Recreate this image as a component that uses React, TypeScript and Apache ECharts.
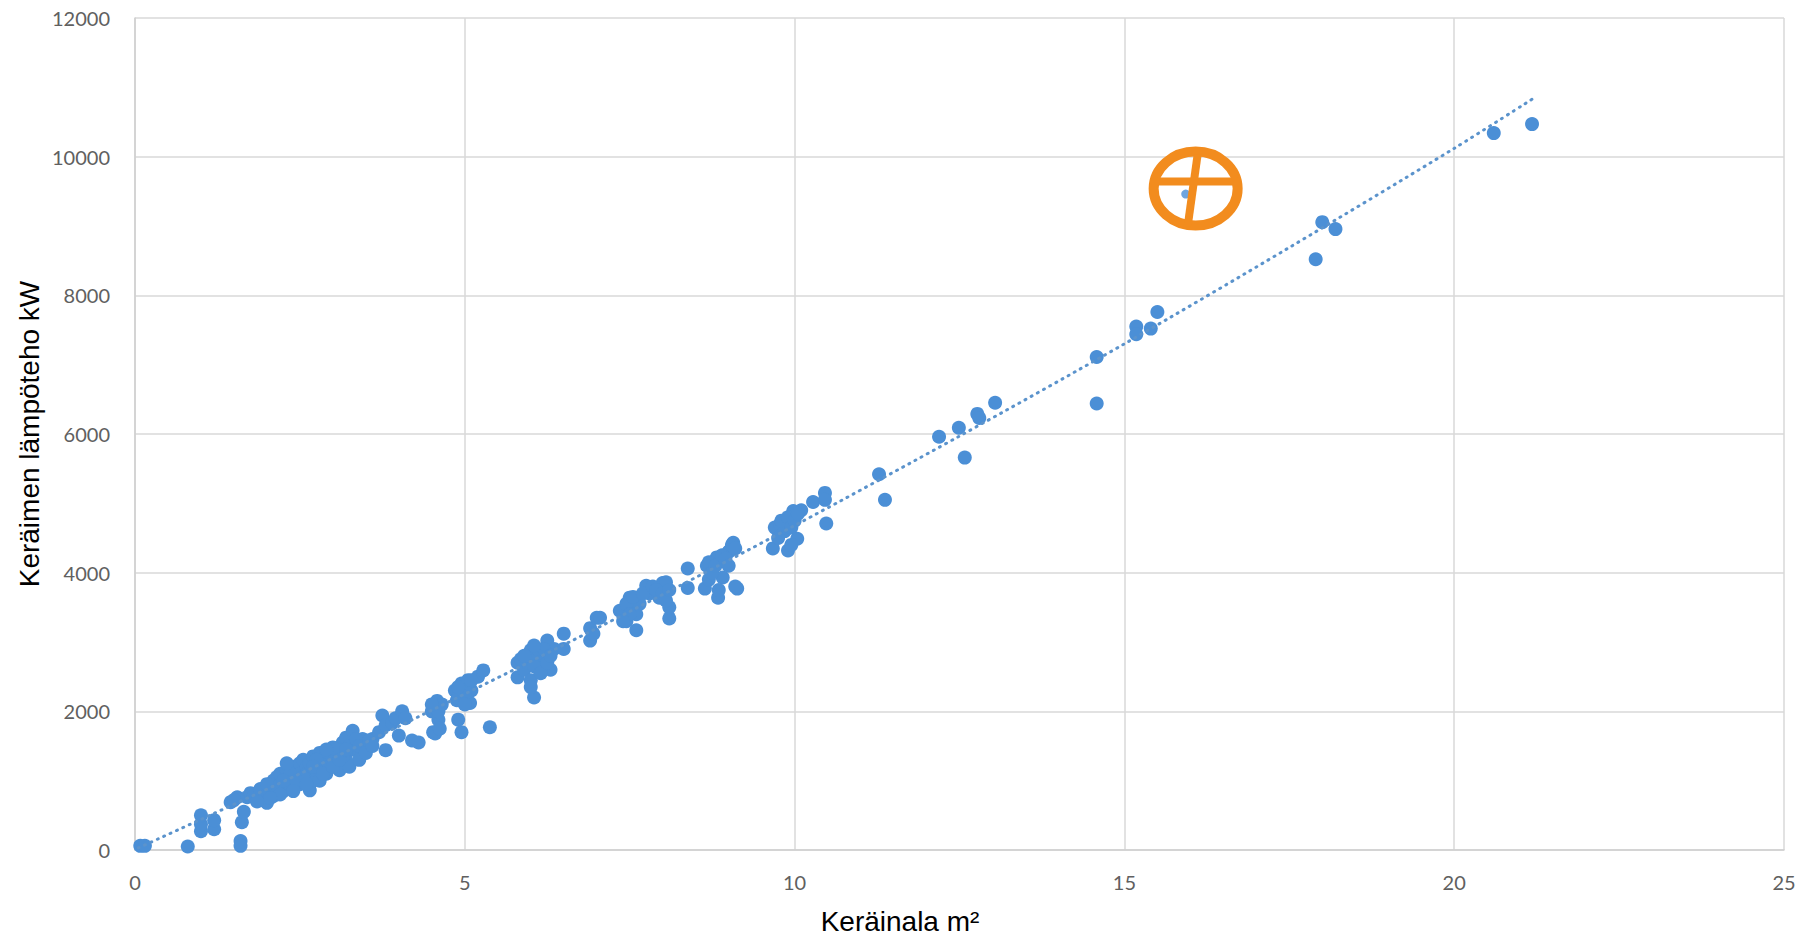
import React, { useEffect, useRef } from "react";
import * as echarts from "echarts";

// Keräinala m² (x) vs keräimen lämpöteho kW (y)
const xMin = 0;
const xMax = 25;
const xStep = 5;
const yMin = 0;
const yMax = 12000;
const yStep = 2000;

const pointsLow: [number, number][] = [
  [0.08, 60], [0.15, 60], [0.8, 50], [1.0, 270], [1.0, 370], [1.0, 500], [1.2, 300], [1.2, 430],
  [1.45, 690], [1.55, 760], [1.6, 130], [1.6, 60], [1.62, 400], [1.65, 550], [1.7, 760], [1.75, 820],
  [1.8, 780], [1.9, 800], [1.95, 720], [2.0, 680], [2.0, 860], [2.05, 900], [2.1, 1000], [2.15, 1050],
  [2.2, 950], [2.2, 1100], [2.25, 850], [2.3, 1150], [2.3, 1000], [2.35, 900], [2.4, 1200], [2.4, 1050],
  [2.45, 1150], [2.5, 1250], [2.5, 1100], [2.5, 950], [2.55, 1300], [2.6, 1200], [2.6, 1100], [2.65, 860],
  [2.65, 1250], [2.7, 1350], [2.7, 1000], [2.75, 1150], [2.8, 1400], [2.8, 1000], [2.85, 1250], [2.9, 1300],
  [2.9, 1100], [2.95, 1200], [3.0, 1480], [3.0, 1350], [3.05, 1250], [3.1, 1150], [3.1, 1400], [3.15, 1550],
  [3.2, 1620], [3.2, 1300], [3.25, 1200], [3.3, 1720], [3.3, 1450], [3.35, 1440], [3.4, 1300], [3.45, 1600],
  [3.5, 1580], [2.1, 780], [2.35, 1100], [2.55, 1050], [2.75, 1300], [2.95, 1400], [3.15, 1350],
  [2.15, 900], [2.25, 1000], [2.45, 1000], [2.6, 950], [2.7, 1200], [2.85, 1100], [3.0, 1200], [3.05, 1450],
  [3.25, 1500], [3.35, 1600], [2.4, 850], [2.2, 800], [2.05, 750], [1.85, 700], [2.3, 1250], [2.9, 1450],
  [3.1, 1300], [3.4, 1500], [3.2, 1450], [3.5, 1400], [3.6, 1600], [1.5, 720], [1.9, 880], [2.0, 950],
];

const pointsMid: [number, number][] = [
  [3.55, 1580], [3.6, 1500], [3.7, 1700], [3.75, 1940], [3.8, 1440], [3.8, 1800], [3.9, 1830], [3.95, 1900],
  [4.0, 1650], [4.05, 2000], [4.1, 1900], [4.2, 1580], [4.3, 1550], [4.5, 2000], [4.52, 1700], [4.55, 1680],
  [4.58, 2150], [4.6, 1880], [4.65, 2100], [4.85, 2300], [4.88, 2160], [4.9, 1880], [4.95, 1700], [4.97, 2300],
  [5.0, 2400], [5.05, 2450], [5.08, 2120], [5.1, 2300], [5.2, 2500], [5.28, 2590], [5.38, 1770],
  [4.55, 2050], [4.6, 2000], [4.62, 1750], [4.9, 2200], [5.0, 2250], [5.0, 2100], [5.05, 2350], [4.95, 2400],
  [5.1, 2450], [4.5, 2100], [4.9, 2350],
  [5.8, 2700], [5.8, 2490], [5.9, 2600], [6.0, 2880], [6.0, 2450], [6.05, 2200], [6.1, 2630], [6.1, 2800],
  [6.15, 2750], [6.2, 2780], [6.25, 3020], [6.3, 2600], [6.35, 2900], [6.5, 3120], [6.5, 2900], [6.9, 3200],
  [5.85, 2750], [5.95, 2700], [6.0, 2800], [6.05, 2650], [6.1, 2900], [6.15, 2550], [6.2, 2900], [6.25, 2700],
  [6.05, 2950], [5.9, 2800], [6.0, 2350], [6.3, 2800],
  [6.9, 3020], [6.95, 3120], [7.0, 3350], [7.05, 3350], [7.35, 3450], [7.4, 3450], [7.45, 3300], [7.5, 3640],
  [7.55, 3500], [7.6, 3170], [7.65, 3550], [7.75, 3810], [7.8, 3700], [7.95, 3640], [8.0, 3850], [8.05, 3860],
  [8.1, 3340], [8.1, 3500],
  [7.45, 3550], [7.55, 3650], [7.6, 3400], [7.7, 3700], [7.85, 3800], [7.9, 3750], [8.0, 3700], [8.05, 3600],
  [8.1, 3750], [7.5, 3400], [7.4, 3300],
];

const pointsHigh: [number, number][] = [
  [8.38, 4060], [8.38, 3780], [8.64, 3770], [8.67, 4100], [8.7, 3900], [8.82, 4220], [8.84, 3640], [8.91, 3930],
  [9.0, 4300], [9.02, 4320], [9.07, 4430], [9.13, 3770], [9.67, 4350], [9.7, 4650], [9.73, 4650], [9.78, 4700],
  [8.7, 4150], [8.75, 4000], [8.8, 4100], [8.9, 4250], [8.95, 4200], [9.05, 4400], [9.1, 4350], [8.85, 3750],
  [9.1, 3800], [9.0, 4100],
  [9.85, 4600], [9.9, 4320], [9.98, 4850], [9.98, 4890], [10.04, 4490], [10.1, 4900], [10.28, 5020], [10.46, 5150],
  [9.8, 4750], [9.9, 4800], [9.95, 4650], [10.0, 4750], [10.05, 4850], [9.75, 4500], [9.95, 4400],
  [10.46, 5050], [10.48, 4710], [11.28, 5420], [11.37, 5050], [12.19, 5960], [12.49, 6090], [12.58, 5660],
  [12.77, 6290], [12.8, 6230], [13.04, 6450], [14.58, 7110], [14.58, 6440], [15.18, 7550], [15.18, 7440],
  [15.4, 7520], [15.5, 7760], [17.9, 8520], [18.0, 9055], [18.2, 8955], [20.6, 10340], [21.18, 10470],
];

const markedPoint: [number, number][] = [[15.93, 9460]];

// dotted trend curve
const trendX: number[] = [0.05, 2.5, 5, 7.5, 10, 12.5, 15, 17.5, 20, 21.2];
const trendY: number[] = [30, 1100, 2250, 3440, 4680, 5970, 7300, 8690, 10120, 10840];

const annotationCenter: [number, number] = [16.08, 9540];

const DOT = "#4B8FD6";
const TREND = "#5B93CC";
const ORANGE = "#F28C1E";
const GRID = "#D9D9D9";
const LABEL = "#606060";

export default function App() {
  const ref = useRef<HTMLDivElement>(null);

  useEffect(() => {
    const chart = echarts.init(ref.current!, null, { renderer: "svg" });
    chart.setOption({
      animation: false,
      backgroundColor: "#ffffff",
      grid: { left: 135, right: 20, top: 18, bottom: 91, containLabel: false },
      xAxis: {
        type: "value",
        min: xMin,
        max: xMax,
        interval: xStep,
        axisLine: { show: true, lineStyle: { color: "#CFCFCF", width: 1.5 } },
        axisTick: { show: false },
        splitLine: { show: true, lineStyle: { color: GRID, width: 1.5 } },
        axisLabel: { color: LABEL, fontSize: 20, fontFamily: "Lato", margin: 22 },
      },
      yAxis: {
        type: "value",
        min: yMin,
        max: yMax,
        interval: yStep,
        axisLine: { show: true, lineStyle: { color: "#CFCFCF", width: 1.5 } },
        axisTick: { show: false },
        splitLine: { show: true, lineStyle: { color: GRID, width: 1.5 } },
        axisLabel: {
          color: LABEL,
          fontSize: 20,
          fontFamily: "Lato",
          margin: 25,
          formatter: (v: number) => String(v),
        },
      },
      series: [
        {
          type: "scatter",
          data: [...pointsLow, ...pointsMid, ...pointsHigh],
          symbolSize: 14,
          itemStyle: { color: DOT, opacity: 1 },
          z: 2,
        },
        {
          type: "scatter",
          data: markedPoint,
          symbolSize: 9,
          itemStyle: { color: DOT },
          z: 2,
        },
        {
          type: "line",
          data: trendX.map((x, i) => [x, trendY[i]]),
          showSymbol: false,
          symbol: "none",
          smooth: 0.3,
          lineStyle: { color: TREND, width: 3, type: [1, 6], cap: "round" },
          z: 3,
        },
      ],
    });

    const [cx, cy] = chart.convertToPixel({ gridIndex: 0 }, annotationCenter) as number[];
    chart.setOption({
      graphic: [
        {
          type: "ellipse",
          shape: { cx, cy, rx: 42, ry: 37 },
          style: { fill: "none", stroke: ORANGE, lineWidth: 10 },
          z: 10,
        },
        {
          type: "line",
          shape: { x1: cx - 38, y1: cy - 7, x2: cx + 42, y2: cy - 7 },
          style: { stroke: ORANGE, lineWidth: 8 },
          z: 10,
        },
        {
          type: "line",
          shape: { x1: cx + 2, y1: cy - 34, x2: cx - 8, y2: cy + 38 },
          style: { stroke: ORANGE, lineWidth: 8 },
          z: 10,
        },
        {
          type: "text",
          x: 900,
          y: 921,
          style: {
            text: "Keräinala m²",
            fontSize: 28,
            fontFamily: "Liberation Sans",
            fill: "#000000",
            align: "center",
            verticalAlign: "middle",
          },
        },
        {
          type: "text",
          x: 29,
          y: 434,
          rotation: Math.PI / 2,
          style: {
            text: "Keräimen lämpöteho kW",
            fontSize: 28,
            fontFamily: "Liberation Sans",
            fill: "#000000",
            align: "center",
            verticalAlign: "middle",
          },
        },
      ],
    });

    return () => chart.dispose();
  }, []);

  return (
    <div
      ref={ref}
      style={{ position: "fixed", left: 0, top: 0, width: 1804, height: 941, background: "#fff" }}
    />
  );
}
